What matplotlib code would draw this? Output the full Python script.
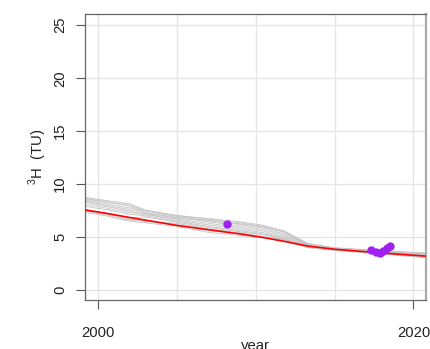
import matplotlib
matplotlib.use("Agg")
import matplotlib.pyplot as plt

plt.rcParams['font.family'] = ['Liberation Sans', 'DejaVu Sans']
plt.rcParams['mathtext.fontset'] = 'custom'
plt.rcParams['mathtext.rm'] = 'Liberation Sans'

# Model years and tritium concentrations (TU)
years = [1999.2, 2000.5, 2002, 2003, 2005, 2007, 2009, 2010.5, 2011.8, 2013.3, 2015, 2017.5, 2020.8]

best_fit = [7.55, 7.25, 6.85, 6.6, 6.1, 5.7, 5.3, 4.95, 4.6, 4.15, 3.85, 3.55, 3.2]

ensemble = [
    [8.75, 8.45, 8.15, 7.55, 7.0, 6.75, 6.45, 6.1, 5.6, 4.4, 4.0, 3.75, 3.5],
    [8.6, 8.3, 8.0, 7.5, 7.05, 6.7, 6.35, 6.0, 5.45, 4.35, 3.95, 3.7, 3.45],
    [8.5, 8.15, 7.75, 7.45, 6.95, 6.55, 6.2, 5.85, 5.3, 4.3, 3.95, 3.7, 3.4],
    [8.4, 8.0, 7.6, 7.3, 6.85, 6.45, 6.05, 5.7, 5.2, 4.25, 3.9, 3.65, 3.4],
    [8.3, 7.9, 7.45, 7.1, 6.7, 6.3, 5.9, 5.55, 5.05, 4.2, 3.9, 3.65, 3.35],
    [8.1, 7.75, 7.3, 7.2, 6.6, 6.15, 5.75, 5.4, 4.95, 4.15, 3.85, 3.6, 3.3],
    [7.9, 7.6, 7.15, 7.0, 6.5, 6.0, 5.6, 5.3, 4.85, 4.1, 3.85, 3.6, 3.3],
    [7.6, 7.25, 6.8, 6.9, 6.4, 5.9, 5.5, 5.2, 4.8, 4.1, 3.8, 3.55, 3.2],
    [7.45, 7.1, 6.6, 6.55, 6.2, 5.6, 5.3, 5.0, 4.7, 4.05, 3.8, 3.5, 3.1],
    [7.35, 7.0, 6.5, 6.35, 6.0, 5.45, 5.15, 4.95, 4.6, 4.0, 3.75, 3.45, 3.05],
    [8.65, 8.35, 7.95, 7.25, 6.8, 6.6, 6.25, 5.95, 5.5, 4.3, 3.95, 3.7, 3.45],
    [7.5, 7.2, 6.7, 6.45, 6.3, 5.75, 5.4, 5.05, 4.75, 4.05, 3.8, 3.5, 3.15],
]

# Observed samples
obs_year = [2008.2, 2017.3, 2017.6, 2017.9, 2018.1, 2018.3, 2018.5]
obs_tu = [6.2, 3.75, 3.6, 3.5, 3.7, 4.0, 4.2]

x_ticks = [2000, 2020]
y_ticks = [0, 5, 10, 15, 20, 25]

fig = plt.figure(figsize=(4.30, 3.49), dpi=100)
ax = fig.add_axes([85 / 430, 49 / 349, 341 / 430, 286 / 349])

for g in ensemble:
    ax.plot(years, g, color='#c4c4c4', lw=0.7, alpha=0.9, zorder=2)
ax.plot(years, best_fit, color='#ff0000', lw=1.2, zorder=3)
ax.plot(obs_year, obs_tu, 'o', color='#a020f0', ms=6, mec='none', zorder=4)

ax.set_xlim(1999.17, 2020.8)
ax.set_ylim(-0.94, 26.06)

for v in [2000, 2005, 2010, 2015, 2020]:
    ax.axvline(v, color='#e6e6e6', lw=1.0, zorder=1)
for v in y_ticks:
    ax.axhline(v, color='#e6e6e6', lw=1.0, zorder=1)

ax.set_xticks(x_ticks)
ax.set_yticks(y_ticks)
ax.tick_params(axis='both', length=6.8, width=0.8, color='#555555',
               labelsize=10.7, labelcolor='#222222')
ax.tick_params(axis='x', pad=12)
ax.tick_params(axis='y', pad=6)
for lab in ax.get_yticklabels():
    lab.set_rotation(90)
    lab.set_va('center')

for side in ['left', 'bottom', 'top']:
    ax.spines[side].set_color('#666666')
    ax.spines[side].set_linewidth(0.9)
ax.spines['right'].set_color('#aaaaaa')
ax.spines['right'].set_linewidth(1.6)

ax.set_ylabel(r'$^{3}$H  (TU)', fontsize=10.7, color='#222222', labelpad=3)
ax.set_xlabel('year', fontsize=10.7, color='#222222', labelpad=-1)

fig.savefig('out.png', dpi=100)
